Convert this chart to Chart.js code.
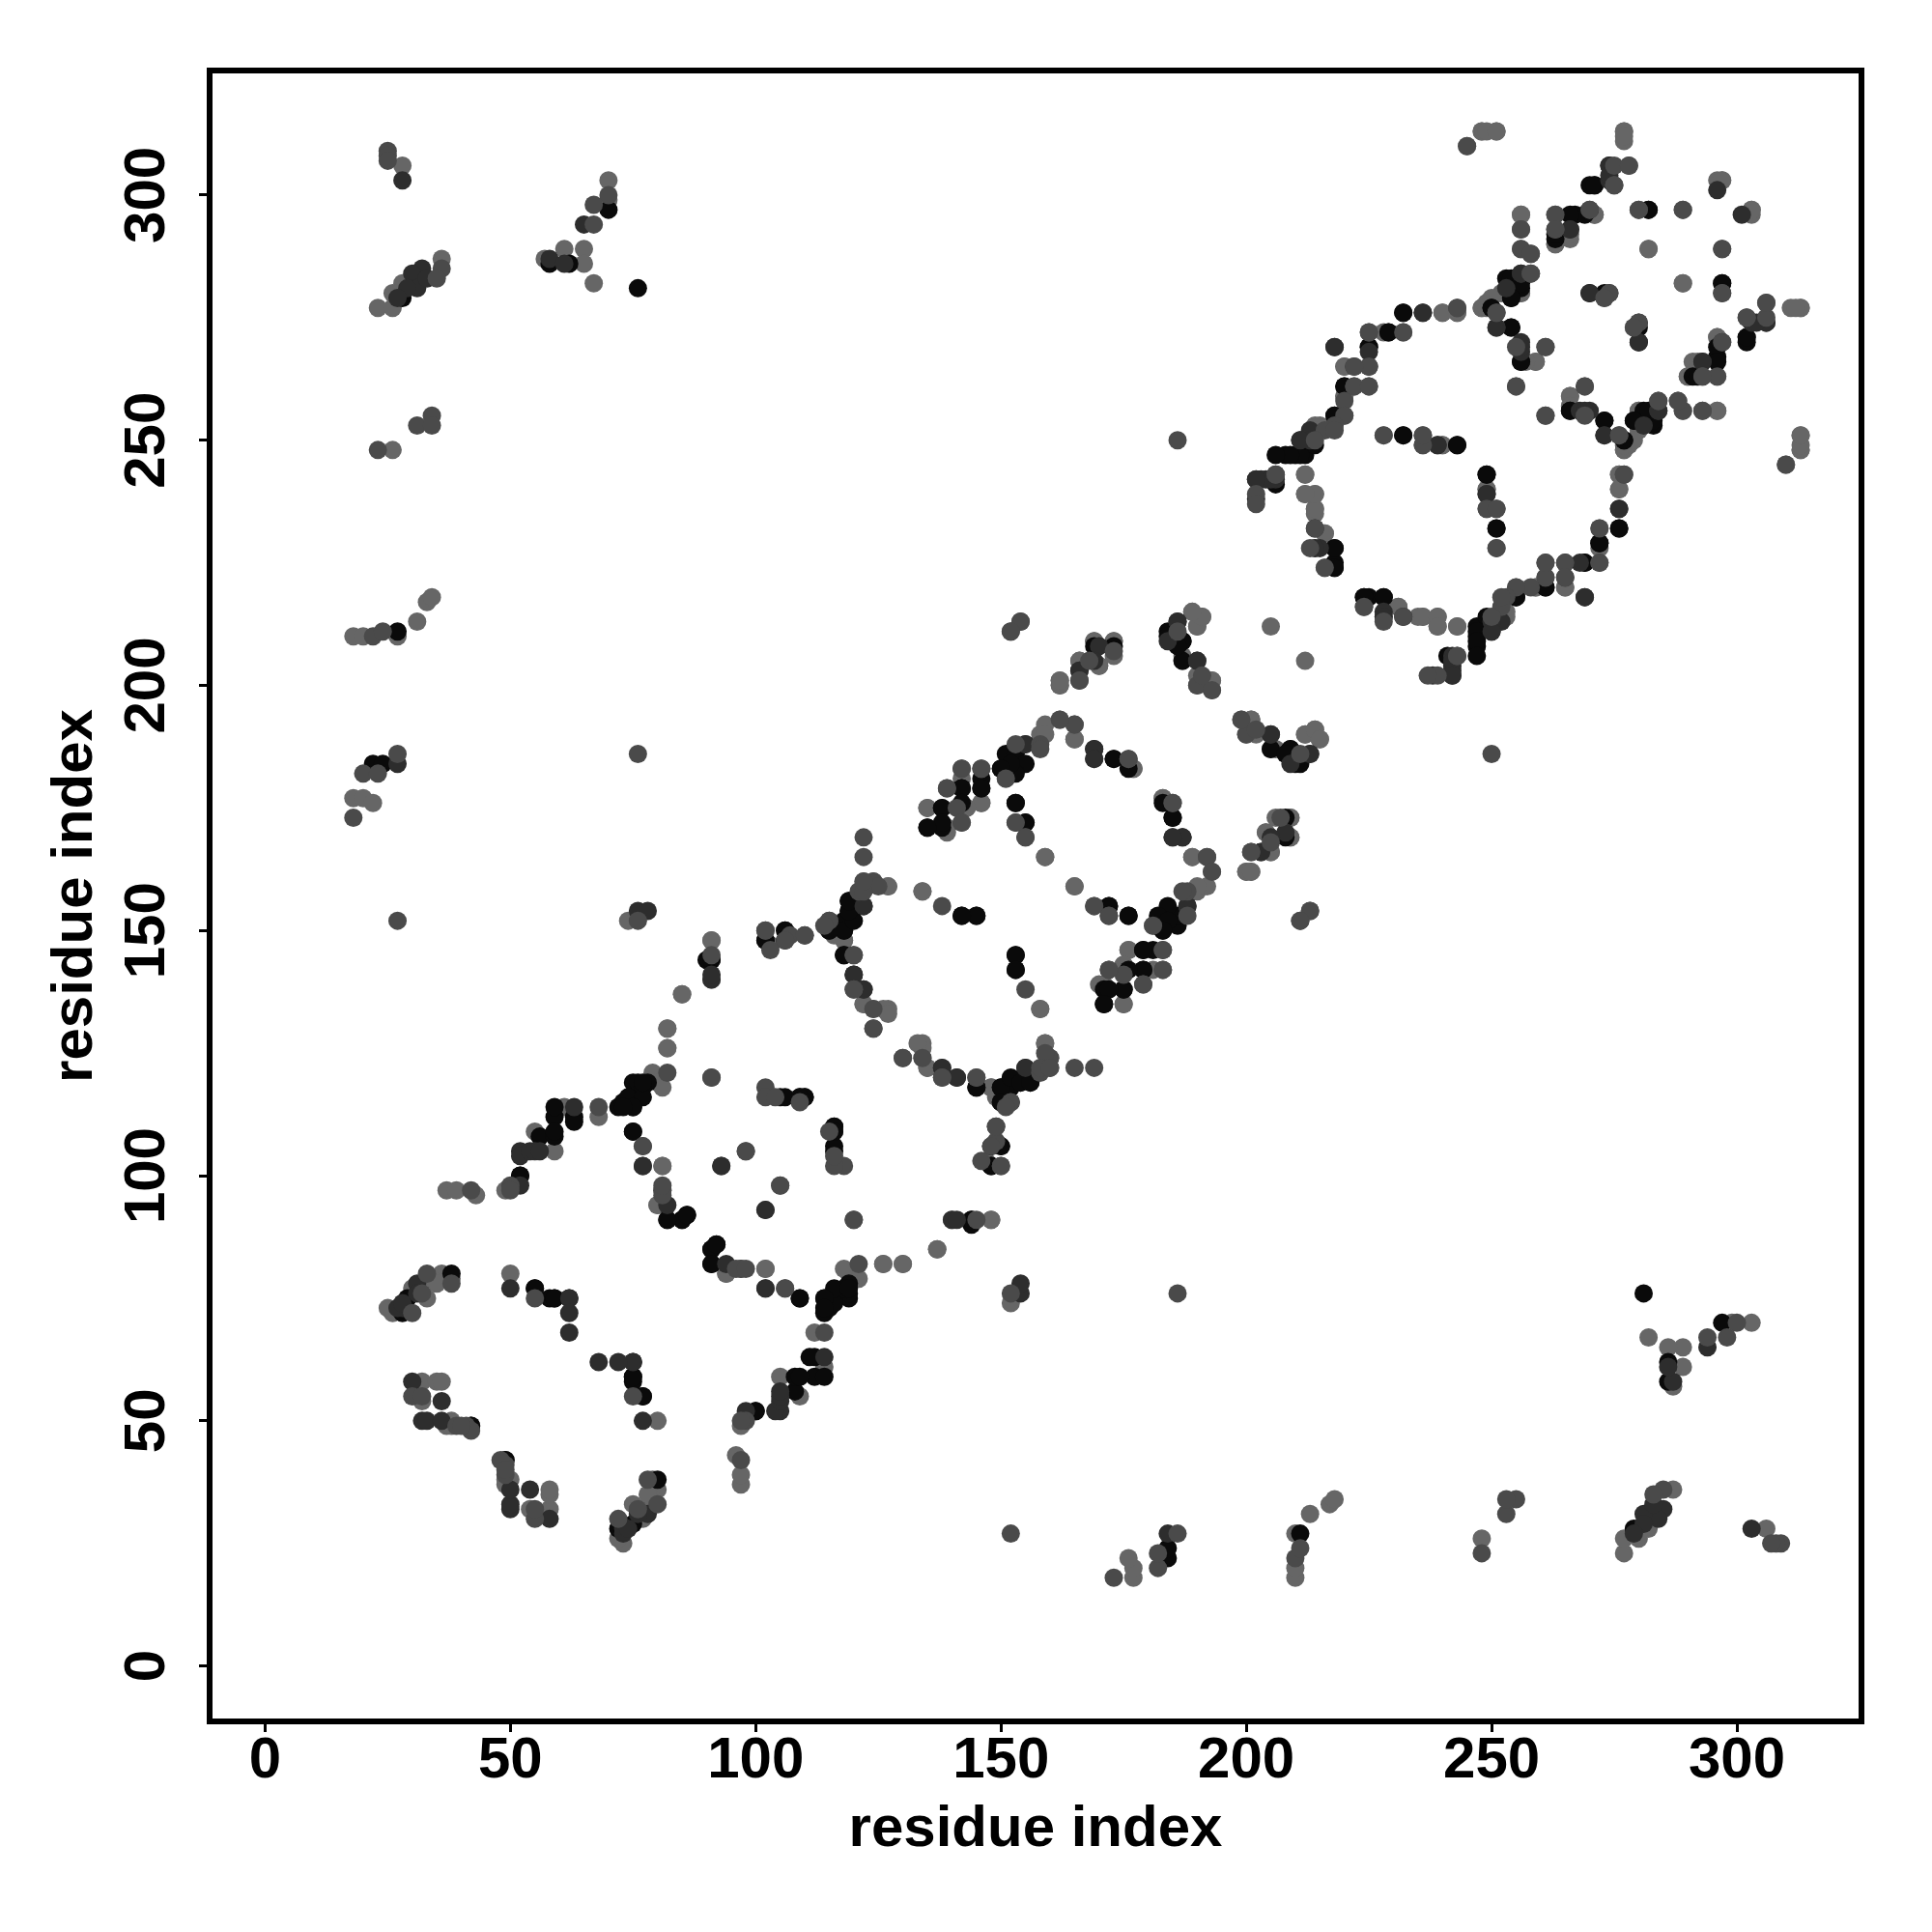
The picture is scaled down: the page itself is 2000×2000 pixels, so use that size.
<!DOCTYPE html>
<html><head><meta charset="utf-8">
<style>html,body{margin:0;padding:0;background:#fff}canvas{display:block}</style>
<script src="https://cdn.jsdelivr.net/npm/chart.js@4/dist/chart.umd.min.js"></script>
</head><body><canvas id="c" width="2000" height="2000"></canvas>
<script>
const tickValues=[0,50,100,150,200,250,300];
const axisLabel="residue index";
const blackContacts=[[28,279],[70,297],[58,286],[62,286],[76,281],[27,211],[22,184],[24,184],[28,72],[29,75],[38,80],[42,49],[55,77],[58,75],[59,75],[49,42],[77,55],[75,59],[75,62],[52,100],[56,108],[59,108],[59,112],[59,114],[63,112],[72,114],[73,115],[75,119],[76,116],[76,119],[78,119],[75,114],[75,109],[82,91],[85,91],[86,92],[90,144],[91,144],[74,116],[77,118],[109,59],[111,63],[100,52],[116,77],[119,77],[114,75],[114,73],[102,148],[106,150],[106,148],[115,150],[118,150],[118,152],[119,154],[119,156],[118,145],[120,141],[142,153],[145,153],[153,145],[153,142],[105,116],[109,116],[110,116],[109,75],[116,106],[116,110],[116,109],[91,85],[92,86],[91,82],[145,118],[150,118],[150,115],[152,120],[155,122],[154,119],[156,119],[150,106],[148,102],[144,91],[173,208],[184,211],[187,209],[187,205],[209,187],[208,186],[210,184],[146,179],[142,179],[138,175],[135,171],[138,171],[150,183],[151,186],[153,186],[151,183],[153,176],[155,172],[173,185],[176,183],[185,173],[187,169],[172,155],[176,153],[184,155],[182,153],[184,152],[183,150],[181,146],[179,146],[179,142],[176,142],[175,138],[172,138],[171,135],[208,169],[232,276],[229,272],[225,269],[220,261],[218,255],[211,250],[210,247],[208,247],[212,247],[206,241],[218,228],[218,225],[218,224],[224,218],[228,218],[232,251],[243,249],[249,243],[251,232],[276,232],[272,229],[269,225],[261,220],[255,218],[249,214],[247,211],[247,209],[247,206],[254,273],[256,266],[266,256],[273,254],[281,256],[283,253],[279,254],[277,250],[280,273],[280,270],[291,263],[296,267],[296,269],[302,271],[306,274],[270,302],[271,302],[266,296],[263,292],[282,297],[297,282],[254,283],[256,282],[254,279],[250,277]];
const darkContacts=[[28,303],[32,285],[30,284],[31,281],[29,281],[33,283],[27,279],[58,287],[61,286],[65,294],[27,184],[30,58],[36,54],[32,50],[33,50],[36,50],[50,77],[62,75],[62,72],[62,68],[28,73],[27,73],[28,74],[31,78],[31,76],[52,105],[52,104],[54,105],[55,105],[56,105],[52,98],[63,114],[77,102],[102,77],[82,94],[93,102],[102,93],[76,154],[78,154],[91,140],[122,155],[122,138],[138,122],[141,120],[152,115],[149,110],[141,91],[170,208],[166,203],[186,213],[184,209],[190,205],[205,190],[213,186],[155,188],[153,172],[169,187],[169,185],[185,169],[188,155],[205,169],[203,166],[236,276],[225,268],[218,269],[222,265],[225,265],[213,252],[202,242],[204,242],[214,232],[215,228],[228,214],[269,218],[250,213],[250,211],[242,203],[242,206],[238,202],[242,205],[242,202],[251,273],[256,270],[256,268],[269,256],[273,251],[284,256],[281,253],[280,274],[293,266],[297,270],[303,274],[274,306],[274,304],[266,293],[301,296],[270,280],[256,284],[239,249],[249,239],[276,236]];
const midContacts=[[25,309],[25,308],[25,307],[36,285],[35,283],[70,300],[67,298],[67,294],[23,248],[31,253],[34,255],[34,253],[22,210],[24,211],[27,186],[20,182],[23,182],[18,173],[27,152],[30,72],[32,76],[33,80],[38,78],[55,75],[30,55],[32,55],[39,49],[41,49],[42,48],[40,49],[50,98],[50,97],[68,114],[42,97],[82,121],[77,106],[81,97],[91,145],[76,152],[102,150],[107,149],[110,149],[115,152],[114,151],[121,158],[124,160],[125,159],[120,145],[120,138],[124,134],[124,130],[138,155],[169,155],[98,105],[105,98],[102,118],[91,120],[120,91],[116,102],[115,109],[104,116],[106,77],[97,81],[96,81],[98,81],[130,124],[158,122],[160,122],[165,122],[169,122],[148,106],[150,102],[146,103],[145,120],[138,120],[152,211],[154,213],[168,205],[166,201],[186,211],[190,200],[193,199],[202,191],[142,183],[146,183],[139,179],[141,175],[142,172],[151,181],[153,188],[158,188],[165,192],[155,169],[176,185],[185,176],[192,165],[193,162],[187,158],[183,146],[183,142],[172,142],[179,139],[172,153],[207,173],[201,166],[213,154],[211,152],[225,272],[243,277],[220,258],[220,255],[218,253],[216,252],[214,250],[206,243],[202,239],[224,216],[228,213],[232,214],[228,251],[236,251],[249,236],[251,236],[277,243],[272,232],[272,225],[265,225],[261,225],[261,222],[265,222],[252,218],[237,202],[243,206],[222,261],[225,261],[255,261],[261,269],[269,261],[261,255],[269,255],[276,251],[288,258],[289,256],[293,256],[284,258],[310,245],[293,263],[296,263],[302,275],[306,278],[306,275],[278,306],[275,302],[270,297],[263,293],[256,293],[258,288],[280,297],[289,297],[297,289],[297,280],[274,280],[258,284],[251,276],[279,273],[76,186],[186,250]];
const lightContacts=[[28,306],[23,277],[26,277],[36,287],[28,282],[26,280],[70,303],[70,299],[61,289],[65,289],[65,286],[57,287],[67,282],[26,248],[18,210],[20,210],[27,210],[31,213],[33,217],[34,218],[18,177],[20,177],[22,176],[25,73],[26,72],[36,80],[34,79],[38,79],[33,75],[35,78],[30,77],[50,80],[32,58],[35,58],[36,58],[32,54],[37,49],[38,49],[38,50],[37,97],[39,97],[43,96],[49,97],[59,105],[55,109],[61,114],[68,112],[79,121],[80,119],[81,102],[81,118],[80,94],[82,130],[82,126],[85,137],[91,148],[74,152],[103,147],[116,149],[118,148],[122,160],[127,159],[122,135],[127,134],[126,134],[134,158],[165,159],[158,134],[133,127],[134,124],[135,122],[148,118],[159,127],[160,124],[102,81],[94,80],[126,82],[130,82],[137,85],[140,91],[148,91],[169,209],[173,209],[173,206],[166,205],[170,204],[162,201],[162,200],[189,215],[191,214],[190,212],[187,206],[190,202],[193,201],[205,212],[199,193],[201,193],[200,190],[205,187],[212,190],[214,191],[215,189],[135,175],[143,175],[146,176],[139,171],[158,190],[159,192],[162,193],[165,189],[159,165],[177,183],[183,177],[189,165],[190,159],[181,151],[176,146],[181,142],[175,143],[170,139],[175,135],[209,173],[204,170],[209,169],[205,166],[200,162],[201,162],[240,276],[243,276],[228,272],[232,272],[220,265],[220,259],[214,253],[212,243],[212,239],[214,239],[214,236],[214,235],[216,231],[214,228],[216,224],[231,216],[236,214],[239,214],[239,212],[243,212],[236,249],[240,249],[249,240],[251,228],[276,243],[276,240],[265,220],[259,220],[255,220],[253,215],[259,266],[266,259],[266,257],[277,248],[278,249],[280,256],[296,256],[313,251],[313,248],[290,263],[291,266],[296,271],[313,277],[311,277],[245,310],[248,313],[249,313],[251,313],[277,313],[277,312],[296,303],[297,303],[263,296],[271,296],[263,290],[266,292],[256,296],[256,289],[282,289],[289,282],[303,297],[273,279],[256,280],[252,280],[248,277],[249,277],[250,279]];

const FONT='"Liberation Sans", Arial, sans-serif';
// the map is symmetric: each contact appears at (i,j) and (j,i)
const both=a=>a.flatMap(([i,j])=>[{x:i,y:j},{x:j,y:i}]);
const ds=(data,color,order)=>({data:both(data),backgroundColor:color,borderWidth:0,pointRadius:9.5,pointHoverRadius:9.5,order});
const frame={id:'frame',afterDatasetsDraw(ch){const a=ch.chartArea,c=ch.ctx;c.save();c.lineWidth=6;c.strokeStyle='#000';c.lineJoin='miter';c.strokeRect(a.left,a.top,a.right-a.left,a.bottom-a.top);c.restore();}};
const axis=(extra)=>Object.assign({type:'linear',min:-11.3,max:325.4,bounds:'data',
  border:{display:false},
  grid:{display:true,drawOnChartArea:false,drawTicks:true,tickLength:11,tickWidth:3,tickColor:'#000'}},extra);
const titleOf=(padding)=>({display:true,text:axisLabel,color:'#000',font:{family:FONT,size:60,weight:'bold'},padding});
new Chart(document.getElementById('c'),{type:'scatter',
 data:{datasets:[ds(lightContacts,'#666666',4),ds(midContacts,'#4a4a4a',1),ds(darkContacts,'#2d2d2d',2),ds(blackContacts,'#0a0a0a',3)]},
 plugins:[frame],
 options:{responsive:false,animation:false,devicePixelRatio:1,
  layout:{padding:{top:73,right:73,left:0,bottom:0}},
  plugins:{legend:{display:false},tooltip:{enabled:false}},
  scales:{
   x:axis({afterBuildTicks(s){s.ticks=tickValues.map(v=>({value:v}));},
     title:titleOf({top:4,bottom:70}),
     ticks:{color:'#000',font:{family:FONT,size:60,weight:'bold'},padding:-6,maxRotation:0,minRotation:0,autoSkip:false,includeBounds:false},
     afterFit(s){s.height=218;}}),
   y:axis({afterBuildTicks(s){s.ticks=tickValues.map(v=>({value:v}));},
     title:titleOf({top:42,bottom:4}),
     ticks:{color:'#000',font:{family:FONT,size:60,weight:'bold'},padding:2,minRotation:90,maxRotation:90,autoSkip:false,includeBounds:false,crossAlign:'center'},
     afterFit(s){s.width=217;}})
  }}});
</script></body></html>
